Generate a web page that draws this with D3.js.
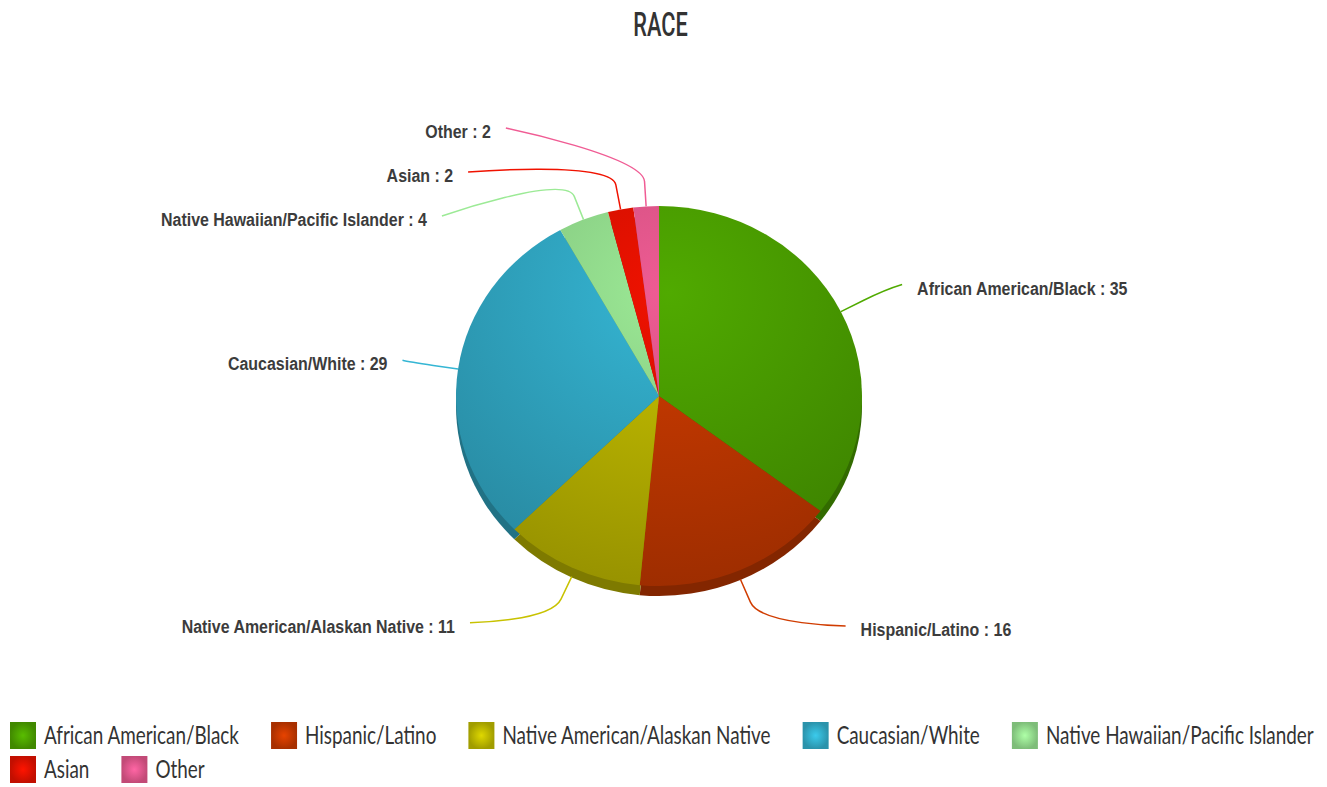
<!DOCTYPE html>
<html>
<head>
<meta charset="utf-8">
<script src="https://cdn.jsdelivr.net/npm/d3@7"></script>
<style>
  body { margin: 0; background: #fff; }
  svg { display: block; }
</style>
</head>
<body>
<svg></svg>
<script>
// data
const categories = [
  "African American/Black",
  "Hispanic/Latino",
  "Native American/Alaskan Native",
  "Caucasian/White",
  "Native Hawaiian/Pacific Islander",
  "Asian",
  "Other"
];
const values = [35, 16, 11, 29, 4, 2, 2];
const colors = ["#50aa00", "#d03c00", "#c8c200", "#35b6d4", "#9cea96", "#f01200", "#f05c94"];
const title = "RACE";

const width = 1327;
const height = 787;
const svg = d3.select("svg").attr("width", width).attr("height", height);

// pie geometry (3d look: squashed ellipse + depth)
const cx = 659, cy = 396;
const rx = 203, ry = 190, depth = 10;
const squash = ry / rx;

// label placement
const labelRx = 258, labelRy = 333, labelNatural = 251;
const labelSpacing = 44, labelTop = 128, labelBottom = 690;
const breakLen = 25;
const labelScale = 0.84;

const defs = svg.append("defs");
colors.forEach((c, i) => {
  const g = defs.append("radialGradient")
    .attr("id", "grad" + i)
    .attr("gradientUnits", "userSpaceOnUse")
    .attr("cx", 10).attr("cy", -110).attr("r", 340);
  g.append("stop").attr("offset", 0).attr("stop-color", c);
  g.append("stop").attr("offset", 1).attr("stop-color", d3.color(c).darker(0.85));

  const lg = defs.append("radialGradient").attr("id", "lgrad" + i);
  lg.append("stop").attr("offset", 0).attr("stop-color", d3.color(c).brighter(0.3));
  lg.append("stop").attr("offset", 1).attr("stop-color", d3.color(c).darker(0.6));
});

// title
svg.append("text")
  .attr("transform", `translate(${width / 2 - 3}, 36) scale(0.64, 1)`)
  .attr("text-anchor", "middle")
  .attr("font-family", "Roboto, sans-serif")
  .attr("font-weight", 500)
  .attr("font-size", 34)
  .attr("fill", "#333")
  .text(title);

const pie = d3.pie().sort(null).value(d => d);
const arcs = pie(values);
const arc = d3.arc().innerRadius(0).outerRadius(rx);

const pieG = svg.append("g")
  .attr("transform", `translate(${cx}, ${cy}) scale(1, ${squash})`);

// side (depth)
pieG.append("g")
  .attr("transform", `translate(0, ${depth / squash})`)
  .selectAll("path")
  .data(arcs)
  .enter()
  .append("path")
  .attr("d", arc)
  .attr("fill", (d, i) => d3.color(colors[i]).darker(1.3));

// top face
pieG.append("g")
  .selectAll("path")
  .data(arcs)
  .enter()
  .append("path")
  .attr("d", arc)
  .attr("fill", (d, i) => `url(#grad${i})`);

// labels
const labels = arcs.map((p, i) => {
  const a = (p.startAngle + p.endAngle) / 2;
  const s = Math.sin(a), c = Math.cos(a);
  return {
    i, s, c,
    right: s >= 0,
    ex: cx + rx * s,
    ey: cy - ry * c + depth * Math.max(0, -c),
    target: cy - labelNatural * c
  };
});

const distribute = (items) => {
  items.sort((a, b) => a.target - b.target);
  let boxes = items.map(d => ({ items: [d], targets: [d.target] }));
  let merged = true;
  while (merged) {
    merged = false;
    boxes.forEach(b => {
      const mid = (d3.min(b.targets) + d3.max(b.targets)) / 2;
      const size = (b.items.length - 1) * labelSpacing;
      b.top = Math.min(Math.max(labelTop, mid - size / 2), labelBottom - size);
    });
    for (let k = 0; k < boxes.length - 1; k++) {
      const b = boxes[k], n = boxes[k + 1];
      if (b.top + b.items.length * labelSpacing > n.top) {
        b.items = b.items.concat(n.items);
        b.targets = b.targets.concat(n.targets);
        boxes.splice(k + 1, 1);
        merged = true;
        break;
      }
    }
  }
  boxes.forEach(b => b.items.forEach((d, j) => { d.y = b.top + j * labelSpacing; }));
};
distribute(labels.filter(d => d.right));
distribute(labels.filter(d => !d.right));

labels.forEach(d => {
  const t = Math.max(-1, Math.min(1, (d.y - cy) / labelRy));
  d.x = cx + (d.right ? 1 : -1) * labelRx * Math.sqrt(1 - t * t);
});

const labelG = svg.append("g");
labelG.selectAll("path")
  .data(labels)
  .enter()
  .append("path")
  .attr("d", d => {
    const bx = d.ex + breakLen * d.s, by = d.ey - breakLen * d.c;
    const kx = d.ex + 2 * breakLen * d.s, ky = d.ey - 2 * breakLen * d.c;
    return `M${d.x},${d.y}C${d.x},${d.y} ${kx},${ky} ${bx},${by}L${d.ex},${d.ey}`;
  })
  .attr("fill", "none")
  .attr("stroke", d => colors[d.i])
  .attr("stroke-width", 1.5);

labelG.selectAll("text")
  .data(labels)
  .enter()
  .append("text")
  .attr("transform", d => `translate(${d.x + (d.right ? 15 : -15)}, ${d.y + 10}) scale(${labelScale}, 1)`)
  .attr("text-anchor", d => d.right ? "start" : "end")
  .attr("font-family", "'Liberation Sans', Arial, sans-serif")
  .attr("font-weight", "bold")
  .attr("font-size", 19)
  .attr("fill", "#3c3c3c")
  .text(d => `${categories[d.i]} : ${values[d.i]}`);

// legend (flow layout)
const legendScale = 0.755;
const legendX0 = 10, legendY0 = 722, rowH = 34, swatchW = 26, swatchH = 27;
const legendG = svg.append("g");
let lx = legendX0, ly = legendY0;
categories.forEach((name, i) => {
  const item = legendG.append("g");
  const txt = item.append("text")
    .attr("font-family", "Lato, sans-serif")
    .attr("font-size", 25)
    .attr("fill", "#333")
    .text(name);
  const tw = txt.node().getComputedTextLength() * legendScale;
  const itemW = swatchW + 8 + tw;
  if (lx + itemW > width - 5) {
    lx = legendX0;
    ly += rowH;
  }
  item.attr("transform", `translate(${lx}, ${ly})`);
  item.insert("rect", "text")
    .attr("width", swatchW)
    .attr("height", swatchH)
    .attr("fill", `url(#lgrad${i})`);
  txt.attr("transform", `translate(${swatchW + 8}, ${swatchH / 2 + 8}) scale(${legendScale}, 1)`);
  lx += itemW + 32;
});
</script>
</body>
</html>
